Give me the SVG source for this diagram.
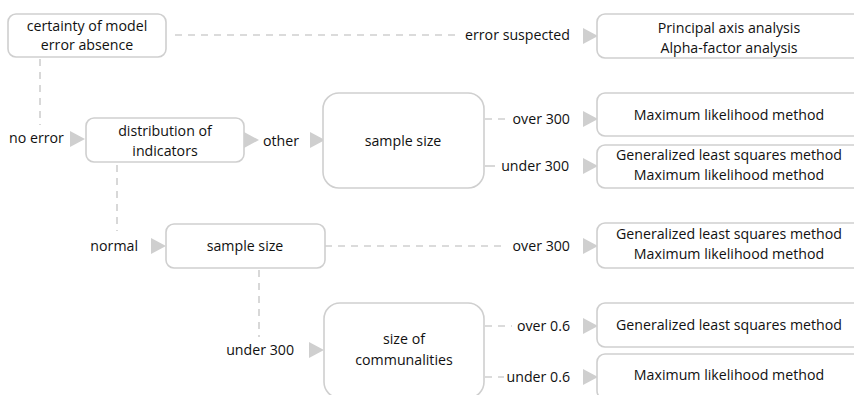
<svg xmlns="http://www.w3.org/2000/svg" width="854" height="395" viewBox="0 0 854 395">
<style>
.box{fill:#fff;stroke:#cfcfcf;stroke-width:1.6}
.dash{stroke:#cfcfcf;stroke-width:1.6;stroke-dasharray:7 6;fill:none}
.solid{stroke:#cfcfcf;stroke-width:1.6;fill:none}
.arr{fill:#cfcfcf}
text{font-family:"Open Sans","Liberation Sans",sans-serif;font-size:14.2px;fill:#111}
.c{text-anchor:middle}
.e{text-anchor:end}
</style>
<defs>
<path id="tri" d="M0,-8 L15,0 L0,8 Z" class="arr"/>
</defs>
<rect width="854" height="395" fill="#fff"/>
<g id="connectors">
<line class="dash" x1="175" y1="35" x2="460" y2="35"/>
<line class="dash" x1="40" y1="59" x2="40" y2="125"/>
<line class="dash" x1="117" y1="165" x2="117" y2="231"/>
<line class="dash" x1="259" y1="270" x2="259" y2="337"/>
<line class="dash" x1="325" y1="246" x2="505" y2="246"/>
<line class="dash" x1="485" y1="119" x2="506" y2="119"/>
<line class="solid" x1="485" y1="166" x2="495" y2="166"/>
<line class="dash" x1="485" y1="326" x2="512" y2="326"/>
<line class="dash" x1="485" y1="377" x2="504" y2="377"/>
<use href="#tri" x="583" y="36"/>
<use href="#tri" x="70" y="139"/>
<use href="#tri" x="244" y="140"/>
<use href="#tri" x="310" y="140"/>
<use href="#tri" x="583" y="119"/>
<use href="#tri" x="583" y="166"/>
<use href="#tri" x="151" y="246"/>
<use href="#tri" x="583" y="246"/>
<use href="#tri" x="309" y="350"/>
<use href="#tri" x="583" y="326"/>
<use href="#tri" x="583" y="377"/>
<text class="e" x="570" y="40">error suspected</text>
<text x="9" y="143">no error</text>
<text x="263" y="146">other</text>
<text class="e" x="570" y="124">over 300</text>
<text class="e" x="569" y="171">under 300</text>
<text class="e" x="138" y="251">normal</text>
<text class="e" x="570" y="251">over 300</text>
<text class="e" x="294" y="355">under 300</text>
<text class="e" x="570" y="331">over 0.6</text>
<text class="e" x="570" y="382">under 0.6</text>
</g>
<g id="n-certainty">
<rect class="box" x="8" y="14" width="158" height="43" rx="8"/>
<text class="c" x="87" y="31">certainty of model</text>
<text class="c" x="87" y="50">error absence</text>
</g>
<g id="n-principal">
<rect class="box" x="597" y="14" width="266" height="44" rx="8"/>
<text class="c" x="729" y="33">Principal axis analysis</text>
<text class="c" x="729" y="53">Alpha-factor analysis</text>
</g>
<g id="n-distribution">
<rect class="box" x="86" y="118" width="158" height="44" rx="8"/>
<text class="c" x="165" y="136">distribution of</text>
<text class="c" x="165" y="156">indicators</text>
</g>
<g id="n-samplesize1">
<rect class="box" x="323" y="93" width="161" height="95" rx="16"/>
<text class="c" x="403" y="146">sample size</text>
</g>
<g id="n-ml1">
<rect class="box" x="597" y="93" width="266" height="43" rx="8"/>
<text class="c" x="729" y="120">Maximum likelihood method</text>
</g>
<g id="n-gls-ml1">
<rect class="box" x="597" y="145" width="266" height="43" rx="8"/>
<text class="c" x="729" y="160">Generalized least squares method</text>
<text class="c" x="729" y="180">Maximum likelihood method</text>
</g>
<g id="n-samplesize2">
<rect class="box" x="166" y="224" width="159" height="44" rx="8"/>
<text class="c" x="245" y="251">sample size</text>
</g>
<g id="n-gls-ml2">
<rect class="box" x="597" y="223" width="266" height="45" rx="8"/>
<text class="c" x="729" y="239">Generalized least squares method</text>
<text class="c" x="729" y="259">Maximum likelihood method</text>
</g>
<g id="n-communalities">
<rect class="box" x="324" y="303" width="160" height="95" rx="16"/>
<text class="c" x="404" y="344">size of</text>
<text class="c" x="404" y="365">communalities</text>
</g>
<g id="n-gls">
<rect class="box" x="597" y="303" width="266" height="44" rx="8"/>
<text class="c" x="729" y="330">Generalized least squares method</text>
</g>
<g id="n-ml2">
<rect class="box" x="597" y="354" width="266" height="45" rx="8"/>
<text class="c" x="729" y="380">Maximum likelihood method</text>
</g>
</svg>
